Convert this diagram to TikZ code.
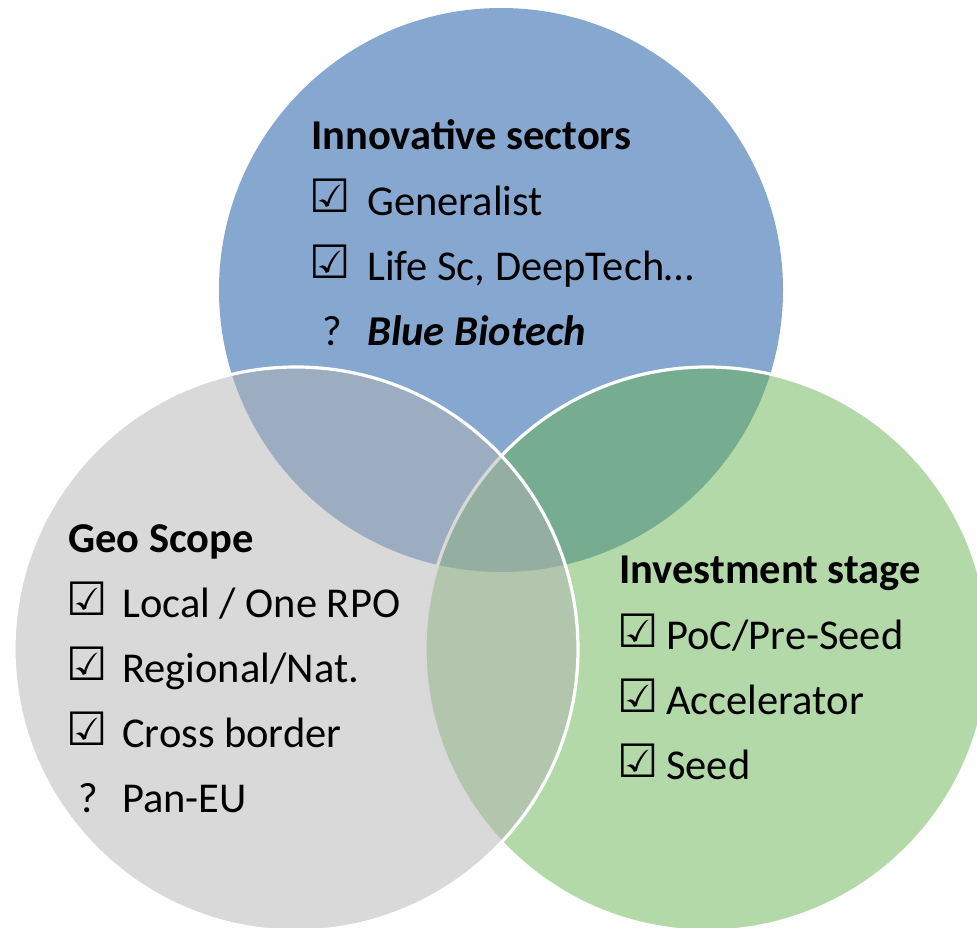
\documentclass[tikz,border=0pt]{standalone}
\usepackage{fontspec}
\setmainfont{Carlito}
\newfontfamily\symfont{DejaVu Sans Bold}
\definecolor{vblue}{RGB}{13,81,161}
\definecolor{vgray}{RGB}{179,179,179}
\definecolor{vgreen}{RGB}{103,179,81}
\begin{document}
\begin{tikzpicture}[x=1pt,y=-1pt,
  txt/.style={anchor=base west, inner sep=0pt, font=\fontsize{42.5}{50}\selectfont},
  hdr/.style={anchor=base west, inner sep=0pt, font=\fontsize{42.5}{50}\selectfont\bfseries},
  itb/.style={anchor=base west, inner sep=0pt, font=\fontsize{42.5}{50}\selectfont\bfseries\itshape},
  chk/.style={anchor=base west, inner sep=0pt, xshift=-4pt, yshift=1pt, font=\fontsize{46}{54}\symfont},
  disc/.style={fill opacity=0.5},
  seam/.style={line width=3.2pt, white}]
\useasboundingbox (0,0) rectangle (977,928);
\coordinate (cb) at (501,290);
\coordinate (cg) at (296,649);
\coordinate (cn) at (707,649);
% discs: blue, green (with seam), gray on top (with seam)
\fill[vblue, disc] (cb) circle[radius=282pt];
\fill[vgreen, disc] (cn) circle[radius=282pt];
\draw[seam] (cn) circle[radius=282pt];
\fill[vgray, disc] (cg) circle[radius=282pt];
\draw[seam] (cg) circle[radius=282pt];
% Innovative sectors
\node[hdr] (bt) at (311,150) {Innovative sectors};
\node[chk] (b1c) at (313,214) {☑};
\node[txt] (b1) at (367,215) {Generalist};
\node[chk] (b2c) at (313,279) {☑};
\node[txt] (b2) at (367,280) {Life Sc, DeepTech…};
\node[txt] (b3q) at (322,345) {?};
\node[itb] (b3) at (367,345) {Blue Biotech};
% Geo Scope
\node[hdr] (gt) at (68,552) {Geo Scope};
\node[chk] (g1c) at (70,616) {☑};
\node[txt] (g1) at (122,617) {Local / One RPO};
\node[chk] (g2c) at (70,681) {☑};
\node[txt] (g2) at (122,682) {Regional/Nat.};
\node[chk] (g3c) at (70,746) {☑};
\node[txt] (g3) at (122,747) {Cross border};
\node[txt] (g4q) at (78,812) {?};
\node[txt] (g4) at (122,812) {Pan-EU};
% Investment stage
\node[hdr] (nt) at (619,583) {Investment stage};
\node[chk] (n1c) at (621,648) {☑};
\node[txt] (n1) at (666,649) {PoC/Pre-Seed};
\node[chk] (n2c) at (621,713) {☑};
\node[txt] (n2) at (666,714) {Accelerator};
\node[chk] (n3c) at (621,778) {☑};
\node[txt] (n3) at (666,779) {Seed};
\end{tikzpicture}
\end{document}
